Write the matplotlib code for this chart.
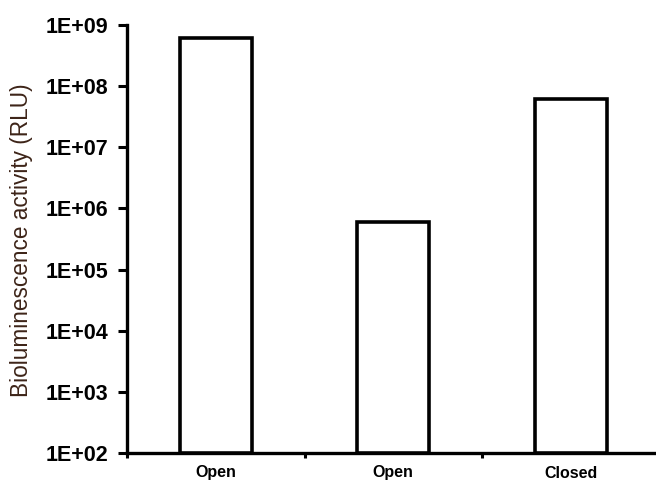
import matplotlib
matplotlib.use("Agg")
import matplotlib.pyplot as plt
import numpy as np

categories = ["Open", "Open", "Closed"]
values = [6.1e8, 5.9e5, 6.1e7]
ytick_vals = [1e2, 1e3, 1e4, 1e5, 1e6, 1e7, 1e8, 1e9]
ytick_labels = ["1E+02", "1E+03", "1E+04", "1E+05", "1E+06", "1E+07", "1E+08", "1E+09"]

W, H = 656, 484
fig = plt.figure(figsize=(W / 100, H / 100), dpi=100)
left = 127 / W
bottom = (H - 453) / H
top = (H - 25) / H
right = 659.5 / W
ax = fig.add_axes([left, bottom, right - left, top - bottom])

pos = np.arange(len(categories)) + 0.5
ax.bar(pos, values, width=0.405, bottom=1e2, facecolor="white", edgecolor="black",
       linewidth=2.6, zorder=3)
ax.set_yscale("log")
ax.set_ylim(1e2, 1e9)
ax.set_xlim(0, 3)

ax.set_yticks(ytick_vals)
ax.set_yticklabels(ytick_labels, fontfamily="Liberation Sans", fontweight="bold", fontsize=15.5)
ax.yaxis.set_minor_locator(matplotlib.ticker.NullLocator())
ax.tick_params(axis="y", which="major", direction="out", length=6.5, width=2.2, pad=7, colors="black")

ax.set_xticks([0, 1, 2, 3])
ax.set_xticklabels([])
ax.set_xticks(pos, minor=True)
ax.set_xticklabels(categories, minor=True, fontfamily="Liberation Sans", fontweight="bold", fontsize=11.5)
ax.tick_params(axis="x", which="major", direction="out", length=3.5, width=2.2)
ax.tick_params(axis="x", which="minor", length=0, pad=9)

for s in ["top", "right"]:
    ax.spines[s].set_visible(False)
for s in ["left", "bottom"]:
    ax.spines[s].set_linewidth(2.4)

fig.text(22 / W, 1 - 240 / H, "Bioluminescence activity (RLU)", rotation=90,
         ha="center", va="center", fontfamily="Liberation Sans", fontsize=16.3,
         color="#3d2418")

fig.savefig("out.png", dpi=100)
